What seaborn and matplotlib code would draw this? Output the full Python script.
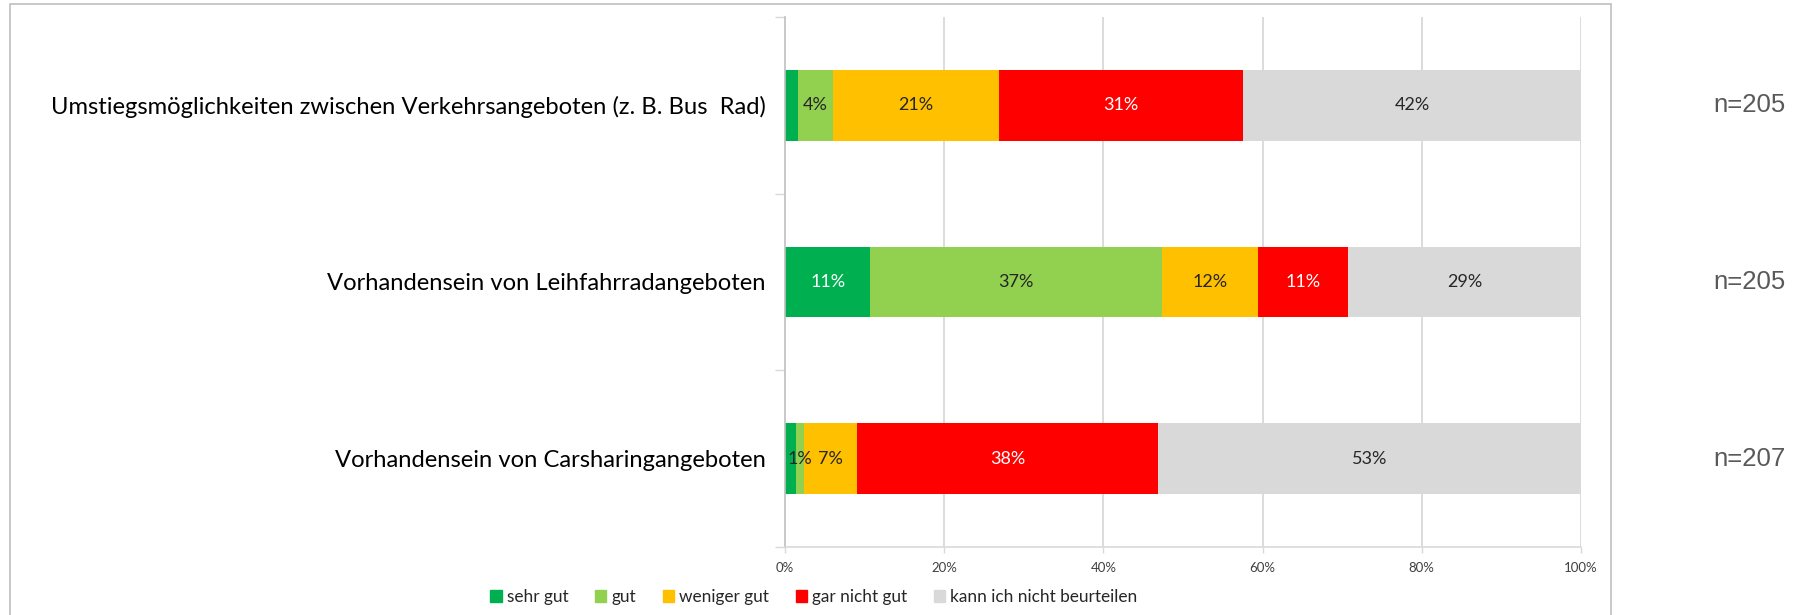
import numpy as np
import pandas as pd
import matplotlib.pyplot as plt
import matplotlib.patches as mpatches
import seaborn as sns

categories = [
  "Umstiegsmöglichkeiten zwischen Verkehrsangeboten (z. B. Bus  Rad)",
  "Vorhandensein von Leihfahrradangeboten",
  "Vorhandensein von Carsharingangeboten",
]
nLabels = ["n=205", "n=205", "n=207"]

seriesNames = ["sehr gut", "gut", "weniger gut", "gar nicht gut", "kann ich nicht beurteilen"]
seriesColors = ["#00B050", "#92D050", "#FFC000", "#FF0000", "#D9D9D9"]
labelColors = ["white", "#262626", "#262626", "white", "#262626"]

sehrGut = [1.6, 10.7, 1.4]
gut = [4.4, 36.6, 1.0]
wenigerGut = [20.9, 12.1, 6.7]
garNichtGut = [30.7, 11.3, 37.8]
kannNicht = [42.4, 29.3, 53.1]

sehrGutLabels = ["", "11%", ""]
gutLabels = ["4%", "37%", "1%"]
wenigerGutLabels = ["21%", "12%", "7%"]
garNichtGutLabels = ["31%", "11%", "38%"]
kannNichtLabels = ["42%", "29%", "53%"]

xTicks = [0, 20, 40, 60, 80, 100]
xTickLabels = ["0%", "20%", "40%", "60%", "80%", "100%"]

values = np.array([sehrGut, gut, wenigerGut, garNichtGut, kannNicht])
labels = [sehrGutLabels, gutLabels, wenigerGutLabels, garNichtGutLabels, kannNichtLabels]
cumulative = values.cumsum(axis=0)

sns.set_style("white")
plt.rcParams["font.family"] = ["Lato", "DejaVu Sans"]

fig = plt.figure(figsize=(17.99, 6.15), dpi=100)
ax = fig.add_axes([785 / 1799, 1 - 547 / 615, 796 / 1799, 530 / 615])

# stacked bars: draw cumulative totals from the back to the front
for i in reversed(range(len(seriesNames))):
  df = pd.DataFrame({"category": categories, "value": cumulative[i]})
  sns.barplot(
    data=df,
    x="value",
    y="category",
    orient="h",
    color=seriesColors[i],
    saturation=1,
    width=0.4,
    linewidth=0,
    ax=ax,
  )

for i in range(len(seriesNames)):
  for j in range(len(categories)):
    if labels[i][j]:
      ax.text(
        cumulative[i][j] - values[i][j] / 2, j, labels[i][j],
        ha="center", va="center", fontsize=13, color=labelColors[i]
      )

ax.set_xlim(0, 100)
ax.set_ylim(2.5, -0.5)
ax.set_xlabel("")
ax.set_ylabel("")

ax.set_xticks(xTicks)
ax.set_xticklabels(xTickLabels)
ax.tick_params(axis="x", length=4, width=1, color="#D9D9D9", pad=7, labelsize=9.5, labelcolor="#404040", bottom=True)
for x in xTicks[1:]:
  ax.axvline(x, color="#D9D9D9", linewidth=1.3, zorder=0)

ax.set_yticks([-0.5, 0.5, 1.5, 2.5])
ax.set_yticklabels([])
ax.tick_params(axis="y", which="major", length=7, width=1, color="#D9D9D9", left=True)
ax.set_yticks([0, 1, 2], minor=True)
ax.set_yticklabels(categories, minor=True)
ax.tick_params(axis="y", which="minor", length=0, pad=14, labelsize=17.1, labelcolor="black")

for side in ["top", "right"]:
  ax.spines[side].set_visible(False)
ax.spines["left"].set_color("#BFBFBF")
ax.spines["bottom"].set_color("#D9D9D9")
ax.spines["left"].set_linewidth(1.2)
ax.spines["bottom"].set_linewidth(1.2)

for j, n in enumerate(nLabels):
  ax.text(
    1.2576, j, n, transform=ax.get_yaxis_transform(),
    ha="right", va="center", fontsize=18.5, color="#595959", family=["Liberation Sans", "DejaVu Sans"]
  )

handles = [mpatches.Patch(color=c, label=s) for s, c in zip(seriesNames, seriesColors)]
fig.legend(
  handles=handles, loc="center", bbox_to_anchor=(814 / 1799, 1 - 597 / 615),
  ncol=5, frameon=False, fontsize=12.4, handlelength=0.65, handleheight=0.65,
  handletextpad=0.3, columnspacing=1.55, labelcolor="#262626"
)

border = mpatches.Rectangle(
  (10 / 1799, -0.1), 1601 / 1799, 1.1 - 4 / 615, transform=fig.transFigure,
  fill=False, edgecolor="#BFBFBF", linewidth=1.2, clip_on=False
)
fig.patches.append(border)

fig.savefig("out.png", dpi=100)
